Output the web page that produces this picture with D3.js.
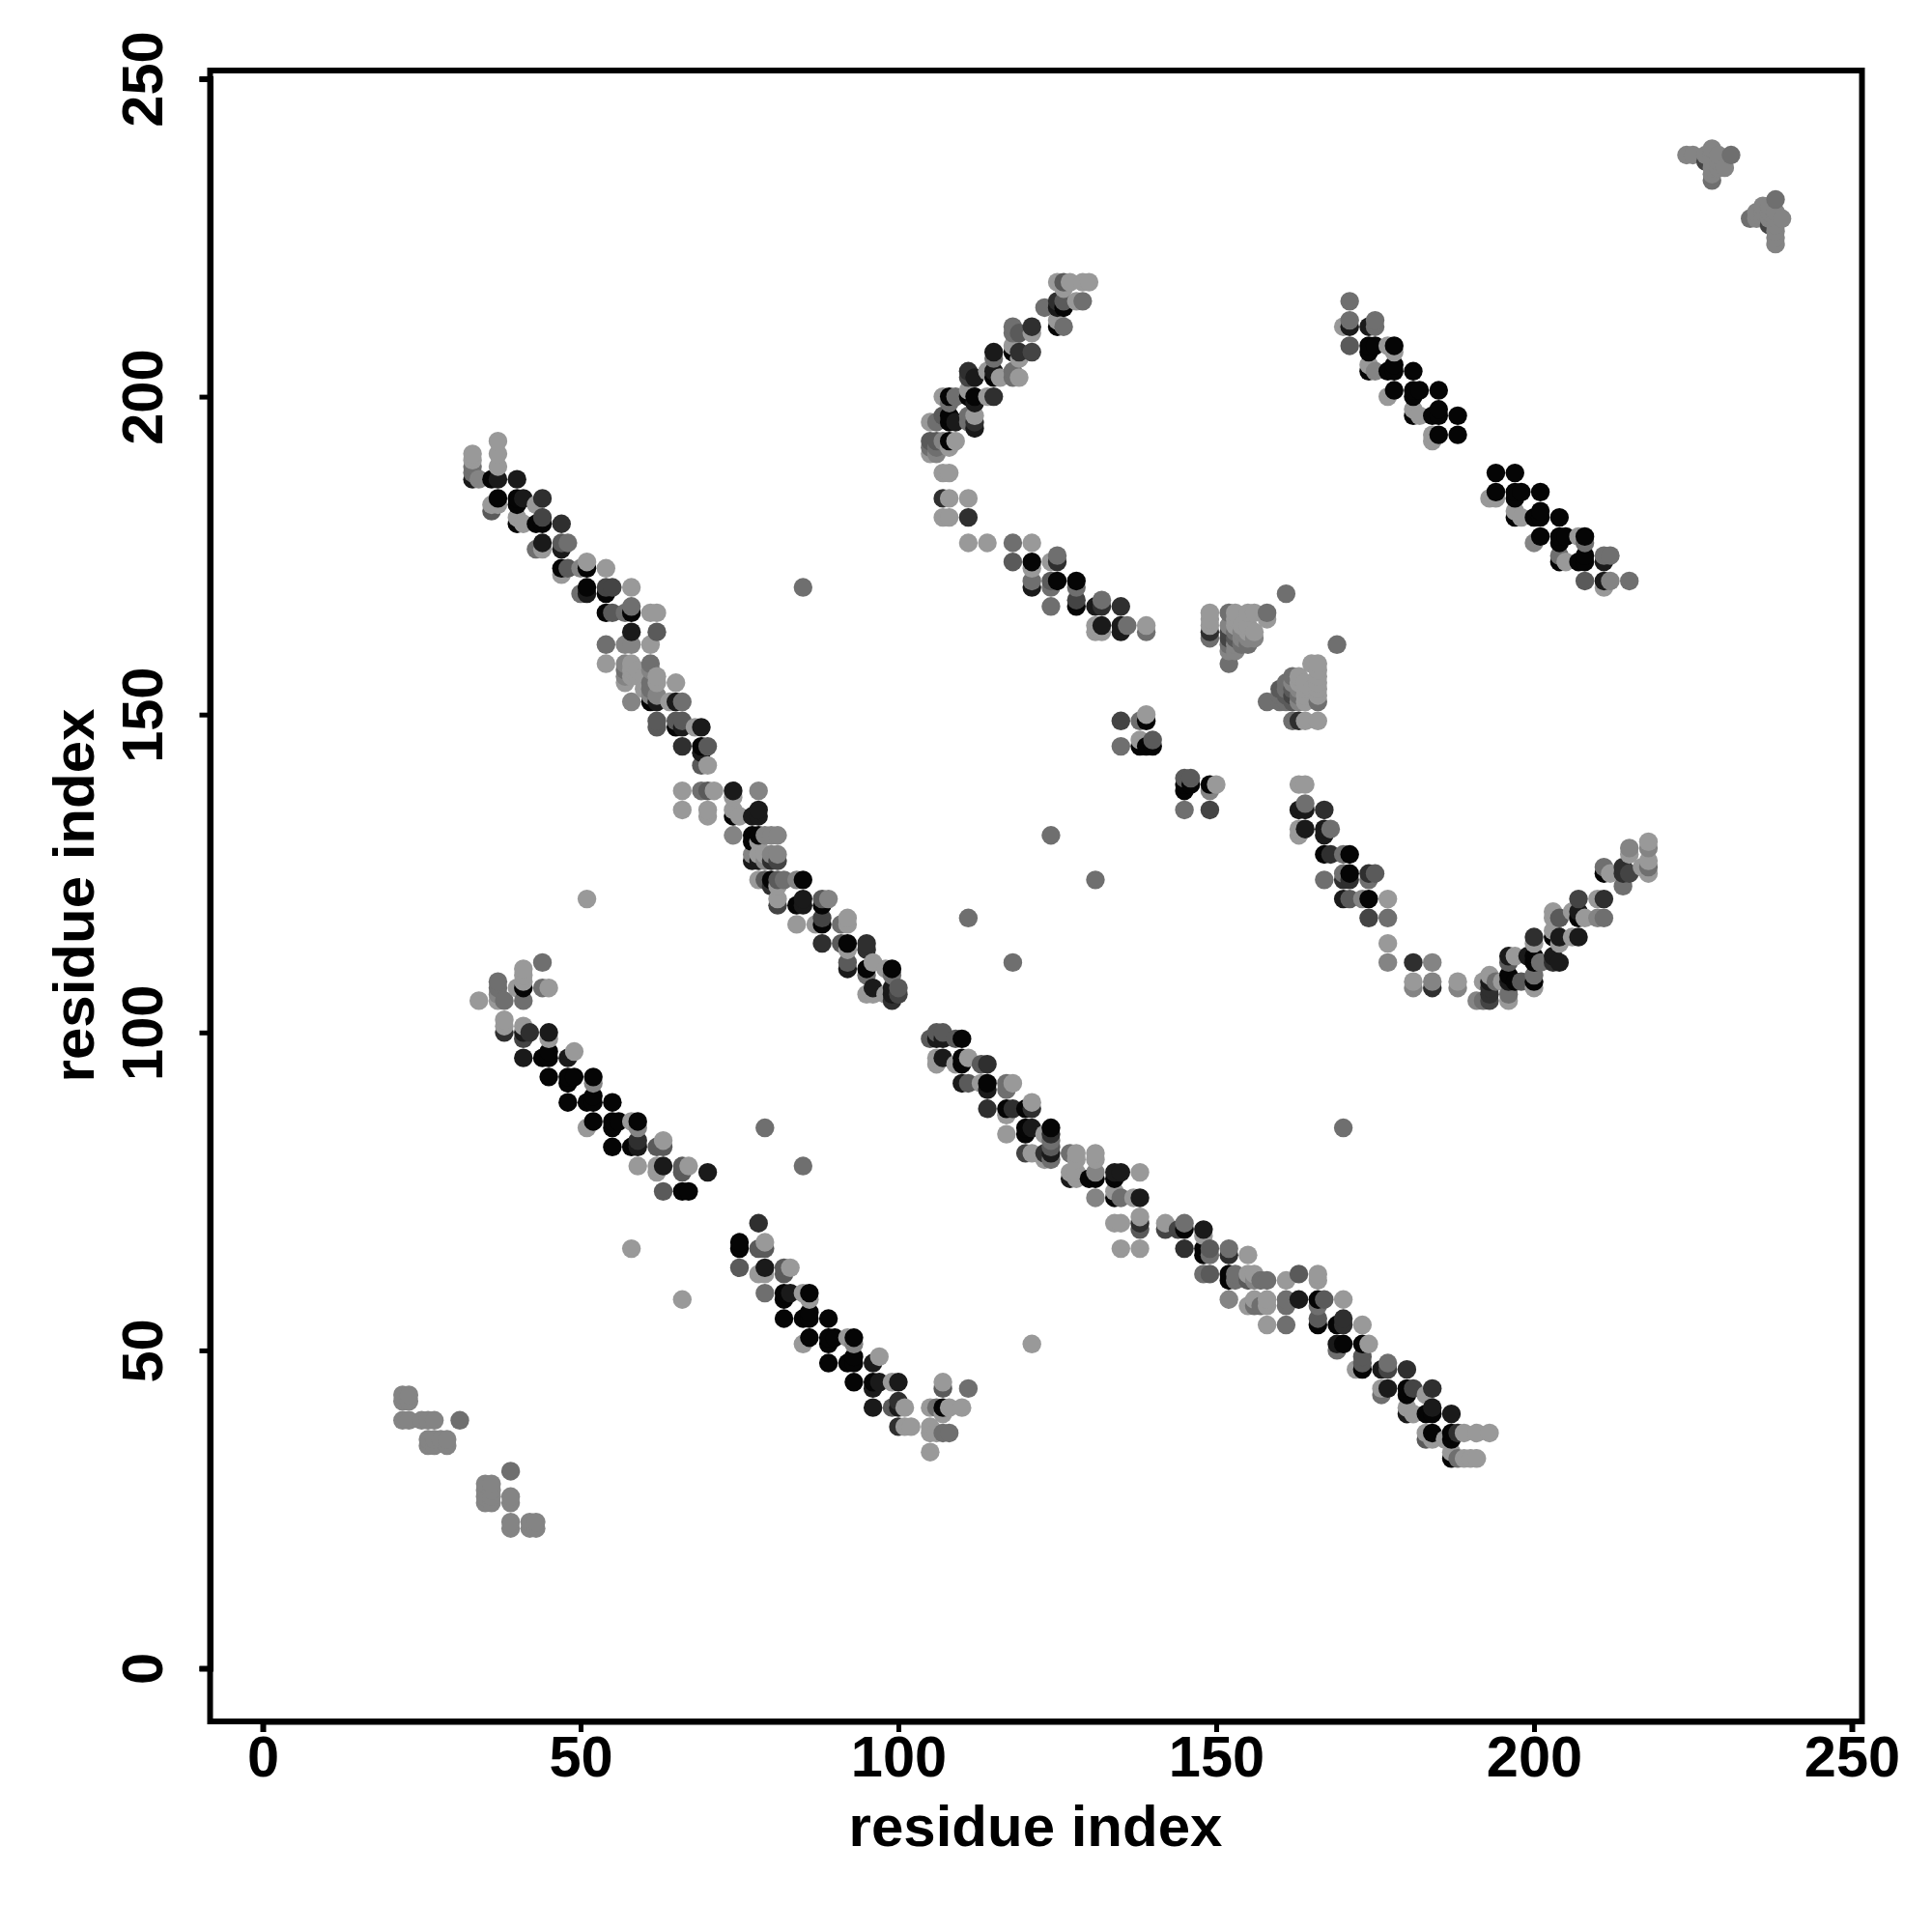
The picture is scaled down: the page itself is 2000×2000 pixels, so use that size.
<!DOCTYPE html>
<html><head><meta charset="utf-8">
<style>html,body{margin:0;background:#fff}svg{display:block}
text{font-family:"Liberation Sans",Arial,sans-serif;font-weight:700;fill:#000}</style>
<script src="https://cdn.jsdelivr.net/npm/d3@7"></script></head><body>
<script>
// each contact: [residue x, residue y, shade 0 (black) .. 7 (light grey)]
const xTicks=[0,50,100,150,200,250];
const yTicks=[0,50,100,150,200,250];
const axisTitle="residue index";
const bandMainUpper=[[33,191,7],[33,190,7],[33,189,5],[33,188,5],[33,187,1],[34,187,6],[36,187,0],[37,187,1],[37,193,7],[37,191,7],[37,189,7],[40,187,1],
[36,182,4],[36,183,7],[37,183,7],[37,184,0],[40,184,0],[40,183,0],[41,184,1],[43,183,7],[44,184,2],[40,180,0],[40,181,7],[41,180,7],[43,180,0],[44,180,0],[44,181,3],[47,180,2],
[43,176,5],[44,176,7],[44,177,1],[47,176,1],[47,177,4],[48,177,5],[47,172,7],[47,173,0],[48,173,4],[50,173,6],[51,173,0],[51,174,7],[54,173,7],
[50,169,5],[51,169,1],[51,170,0],[54,169,0],[54,170,3],[55,170,3],[58,170,7],[54,166,0],[55,166,4],[57,166,5],[58,166,0],[58,167,5],[61,166,7],[62,166,7],
[58,163,1],[62,163,4],[54,161,5],[57,161,6],[58,161,6],[61,161,7],[54,158,7],[57,158,6],[57,157,5],[57,156,6],[57,155,7],[58,158,7],[58,157,7],[58,156,7],[59,157,7],[59,156,7],[61,158,5],[61,157,6],[61,155,5],[61,154,5],[61,153,6],[61,152,0],[62,156,7],[62,155,7],[62,153,6],[62,152,1],[60,156,7],[60,154,7],[65,155,7],[64,152,7],[65,152,1],[66,152,5],[58,152,6],
[62,149,4],[62,148,4],[65,149,4],[66,149,4],[65,148,0],[66,148,1],[68,148,7],[69,148,1],[66,145,2],[69,145,0],[70,145,4],[69,144,1],[69,142,4],[70,142,7],
[66,138,7],[69,138,5],[70,138,4],[71,138,7],[74,138,1],[74,137,7],[78,138,6],[66,135,7],[70,135,7],[70,134,7],[74,135,7],[74,134,0],[75,134,7],[77,134,1],[78,135,1],[78,134,1],
[74,131,6],[77,131,0],[77,130,0],[78,131,0],[78,130,7],[79,131,6],[80,131,6],[81,131,6],[77,128,6],[77,127,1],[78,128,7],[78,127,1],[79,128,7],[79,127,6],[80,127,2],[80,128,6],[81,128,6],[81,127,3],
[78,124,7],[79,124,4],[80,124,0],[81,124,4],[82,124,5],[84,124,6],[85,124,0],[80,123,2],[81,123,7],[81,121,7],[81,120,3],[84,120,0],[85,121,1],[85,120,1],[88,121,4],[89,121,6],[88,120,0],[88,118,3],[88,117,0],[87,117,7],[84,117,7],[92,118,7],[92,117,7],[91,117,5],
[88,114,2],[91,114,4],[92,114,0],[92,113,7],[95,114,2],[95,113,2],[92,111,4],[92,110,1],[95,110,0],[96,111,7],[95,109,5],[98,110,7],[99,110,0],[99,109,5],[96,107,1],[95,106,7],[96,106,7],[98,106,7],[99,107,1],[99,106,1],[100,107,4],[100,106,3],[99,105,2]];
const bandMainLower=[[105,99,4],[106,100,4],[107,100,4],[106,99,1],[107,99,1],[109,99,4],[110,99,0],[106,96,7],[106,95,7],[107,96,1],[109,95,7],[110,96,0],[110,95,0],[111,96,7],[113,95,4],[114,95,2],
[110,92,1],[111,92,4],[113,92,7],[114,92,0],[114,91,1],[117,92,5],[118,92,7],[117,91,5],[114,88,2],[117,88,0],[117,87,7],[118,88,2],[120,88,0],[121,88,2],[121,89,7],
[117,84,7],[120,85,0],[120,84,0],[121,85,1],[124,85,0],[123,84,7],[124,84,2],[120,81,3],[121,81,7],[123,81,2],[124,83,5],[124,82,4],[124,81,1],[124,80,5],[123,80,7],
[127,81,5],[128,81,7],[128,80,7],[127,77,1],[127,78,7],[128,78,7],[128,77,7],[131,81,7],[131,80,7],[131,78,6],[131,77,0],[130,77,0],[134,78,1],[135,78,1],[134,77,0],[138,78,7],
[131,74,6],[134,75,7],[134,74,0],[135,74,5],[137,74,7],[138,74,1],[138,71,7],[134,70,7],[135,70,7],[138,70,2],[138,69,4],[135,66,7],[138,66,7],
[142,70,7],[142,69,3],[144,69,3],[145,70,5],[145,69,0],[148,69,1],[148,68,7],[145,66,2],[148,66,0],[148,65,0],[149,66,4],[149,65,5],[152,66,5],[152,65,2],[155,65,7],
[148,62,5],[149,62,4],[152,62,0],[152,61,0],[153,62,5],[153,61,5],[155,62,7],[156,62,7],[155,61,4],[156,61,6],[157,61,5],[158,61,5],[152,58,6],[155,57,7],[156,58,7],[156,57,5],[157,57,5],[158,58,7],[158,57,7],
[161,61,7],[163,62,4],[166,62,7],[166,61,7],[161,58,5],[161,57,5],[163,58,1],[166,58,0],[166,57,5],[167,58,4],[170,58,7],[158,54,7],[161,54,5],[166,55,4],[166,54,0],[169,54,0],[170,55,2],[170,54,2],[173,54,7],
[169,51,1],[170,51,0],[169,50,5],[173,51,0],[174,51,7],[173,49,4],[173,48,4],[172,47,7],[173,47,0],[176,47,1],[177,48,5],[177,47,3],[180,47,2],
[176,44,7],[176,43,5],[177,44,1],[180,44,0],[180,43,0],[181,44,3],[184,44,2],[183,43,7],[180,41,7],[180,40,1],[181,40,7],[183,40,0],[184,41,1],[184,40,0],[187,40,1],
[183,37,7],[183,36,4],[184,37,0],[184,36,7],[186,36,7],[187,37,0],[187,36,0],[188,37,2],[189,37,7],[191,37,7],[193,37,7],[187,33,0],[187,34,7],[188,33,5],[189,33,7],[190,33,7],[191,33,7]];
const bandUpperLeft=[[44,111,5],[41,110,7],[37,108,5],[37,107,5],[41,109,7],[41,108,7],[40,107,7],[41,107,0],[44,107,5],[45,107,7],[34,105,7],[37,106,6],[37,105,7],[38,105,5],[41,105,5],
[38,102,7],[38,101,7],[38,100,2],[41,101,7],[41,100,1],[41,99,3],[42,100,2],[45,100,1],[45,99,7],[41,96,1],[44,96,0],[45,97,0],[45,96,0],[48,96,1],[49,97,7],
[45,93,0],[48,93,0],[49,93,0],[48,92,0],[52,93,0],[52,92,6],[48,89,0],[51,89,0],[52,90,0],[52,89,0],[55,89,0],[52,86,0],[51,85,7],[55,86,0],[56,86,0],[55,85,0],[58,86,7],[59,86,0],[59,85,6],
[55,82,0],[58,82,0],[59,82,1],[59,83,2],[62,82,4],[63,83,7],[63,82,4],[59,79,7],[62,79,7],[62,78,7],[63,79,1],[66,79,4],[66,78,4],[67,79,7],[70,78,1],[63,75,4],[66,75,0],[67,75,0]];
const bandLowerMiddle=[[78,70,2],[75,67,0],[75,66,0],[78,66,4],[79,67,7],[79,66,4],[75,63,4],[78,62,7],[79,63,1],[79,62,7],[82,63,4],[82,62,4],[83,63,7],[79,59,5],[82,59,0],[83,59,1],[82,58,0],[85,59,7],[86,59,0],[86,58,7],
[82,55,0],[85,55,0],[86,55,0],[86,56,0],[89,55,0],[86,52,0],[85,51,7],[89,52,0],[90,52,0],[89,51,0],[92,52,7],[93,52,0],[93,51,6],[89,48,0],[92,48,0],[93,48,0],[93,49,0],[96,48,1],[97,49,7],
[93,45,0],[96,45,0],[97,45,1],[96,44,1],[99,45,7],[100,45,1],[96,41,1],[99,41,4],[100,42,2],[100,41,1],[101,41,7],[100,38,2],[101,38,7],[102,38,7],
[105,41,7],[106,41,5],[107,41,0],[108,41,7],[110,41,7],[107,40,7],[107,45,7],[107,44,4],[111,44,5],[105,38,7],[105,37,7],[106,37,7],[107,37,5],[108,37,5],[105,34,7]];
const bandArcTop=[[125,218,7],[126,218,4],[127,218,7],[129,218,7],[130,218,7],[126,217,7],[123,214,5],[125,215,2],[126,215,4],[125,214,1],[126,214,0],[128,215,7],[129,215,5],[125,211,0],[126,211,5],[125,212,7],
[118,211,5],[118,210,5],[119,210,4],[121,211,2],[121,210,7],[118,208,7],[118,207,0],[119,207,2],[119,206,7],[121,207,3],[115,207,1],[115,206,5],[118,204,5],[119,203,7],[118,203,5],[116,203,7],[115,204,1],[115,203,0],[114,204,7],[111,204,2],[112,203,1],[111,203,3],
[107,200,7],[108,200,0],[109,200,5],[108,199,5],[111,201,7],[111,200,0],[112,200,0],[112,199,1],[114,200,7],[115,200,2],[105,196,7],[106,196,5],[107,197,4],[108,197,0],[108,196,0],[109,196,1],[111,197,5],[111,196,5],[112,197,7],[112,196,2],[112,195,1],
[105,193,4],[106,193,4],[105,192,5],[105,191,7],[106,192,5],[106,191,6],[107,193,6],[108,193,0],[109,193,7],[108,192,7],[107,188,7],[108,188,7],[107,184,2],[108,184,7],[111,184,7],[107,181,7],[108,181,7],[111,181,2],
[111,177,7],[114,177,7],[118,177,5],[121,177,7],[118,174,4],[121,174,0],[121,173,7],[124,174,7],[125,175,5],[125,174,2],[121,171,5],[121,170,1],[124,171,4],[124,170,5],[125,171,0],[128,171,0],[128,170,5],
[124,167,5],[128,168,3],[128,167,0],[131,167,1],[132,168,5],[132,167,2],[135,167,2],[131,164,7],[131,163,7],[132,164,1],[132,163,7],[135,164,1],[135,163,1],[136,164,5],[139,164,7],[139,163,5]];
const bandArcBottom=[[163,139,7],[164,139,7],[163,135,1],[164,136,5],[164,135,1],[167,135,2],[163,132,7],[163,131,7],[164,132,1],[167,132,1],[167,131,1],[168,132,5],[167,128,0],[168,128,2],[170,128,5],[171,128,0],
[167,124,5],[170,125,5],[170,124,2],[171,125,0],[171,124,2],[174,125,2],[175,125,4],[174,124,5],[170,121,1],[171,121,4],[173,121,6],[174,121,0],[177,121,7],[174,118,3],[177,118,5],[177,114,7],[177,111,6],
[181,111,2],[184,111,6],[181,108,7],[181,107,6],[184,108,6],[184,107,2],[188,108,7],[188,107,6],
[191,105,6],[192,105,5],[192,108,7],[193,109,7],[193,108,1],[193,107,2],[193,106,2],[193,105,3],[194,108,5],[195,108,7],[196,112,1],[196,111,4],[196,109,0],[196,108,1],[196,106,5],[196,105,7],[197,112,7],[197,108,0],[198,108,4],[199,112,1],
[200,115,2],[200,114,7],[200,112,0],[200,111,0],[201,111,5],[200,109,5],[200,108,0],[200,107,7],[203,119,7],[203,118,7],[203,116,7],[203,115,0],[203,112,1],[203,111,2],[204,118,4],[204,115,1],[204,114,7],[204,111,1],
[206,119,7],[206,115,7],[207,121,3],[207,119,1],[207,118,0],[207,115,1],[208,118,7],[210,121,7],[211,121,2],[210,118,6],[211,118,5],[211,126,5],[211,125,0],[212,125,7],[214,126,2],[214,125,2],[214,123,5],[215,129,6],[215,128,7],[215,125,3],[217,126,7],[218,130,7],[218,129,6],[218,127,7],[218,126,5],[218,125,7]];
const bandRight=[[171,215,5],[170,211,7],[171,212,5],[171,211,1],[171,208,4],[174,211,1],[175,212,5],[175,211,5],[174,208,0],[174,207,0],[175,208,0],[177,208,7],[178,208,0],[178,207,7],
[174,205,7],[174,204,0],[175,204,6],[177,204,0],[178,204,0],[178,205,0],[181,204,0],[177,200,7],[178,201,0],[181,201,0],[182,201,0],[181,200,0],[185,201,0],[181,198,7],[181,197,0],[182,197,7],[184,197,0],[185,198,0],[185,197,0],[188,197,0],[184,194,7],[184,193,7],[185,194,0],[188,194,0],
[194,188,0],[197,188,0],[193,184,7],[194,185,0],[194,184,7],[197,185,0],[197,184,0],[198,185,0],[201,185,0],[197,182,7],[197,181,0],[198,181,7],[200,181,0],[201,182,0],[201,181,0],[204,181,0],
[200,177,6],[201,178,0],[204,178,0],[205,178,0],[204,177,0],[207,178,7],[208,178,0],[208,177,5],[204,175,5],[204,174,0],[205,174,7],[207,174,0],[208,175,0],[208,174,0],[211,175,5],[212,175,5],[211,174,1],[208,171,4],[211,171,1],[211,170,7],[212,171,6],[215,171,5]];
const clusterSmall=[[135,149,3],[138,149,5],[139,149,0],[139,150,7],[135,145,5],[138,146,7],[138,145,0],[139,145,0],[140,146,4],[140,145,0],
[145,140,4],[145,139,0],[145,138,0],[146,140,4],[146,139,0],[149,139,0],[150,139,7],[149,138,6],[145,135,5],[149,135,3]];
const clusterA=[[149,166,7],[149,165,7],[149,164,7],[149,163,2],[149,162,5],[152,166,5],[153,166,7],[155,166,7],[156,166,7],[158,166,5],[158,165,7],
[152,164,6],[152,163,3],[152,162,3],[152,161,5],[152,160,6],[152,158,5],[153,165,7],[153,164,7],[153,163,5],[153,162,4],[153,161,6],[153,160,6],[154,164,7],[154,163,6],[154,162,6],[154,161,5],[155,164,7],[155,163,7],[155,162,6],[155,161,5],[156,163,7],[156,162,6]];
const clusterB=[[158,152,5],[160,154,4],[160,153,5],[160,152,5],[161,155,5],[161,154,5],[161,153,4],[161,152,5],[162,156,5],[162,155,6],[162,154,4],[162,153,3],[162,152,4],[163,156,7],[163,155,7],[163,154,6],[163,153,5],[163,152,6],[164,155,7],[164,154,7],[164,153,7],[164,152,7],
[165,158,7],[165,154,7],[166,158,7],[166,157,7],[166,156,7],[166,155,7],[166,154,7],[166,153,7],[166,152,5],[162,149,5],[163,149,2],[164,149,7],[166,149,7]];
const clusterLowerLeft=[[22,43,6],[23,43,6],[22,42,6],[23,42,6],[22,39,6],[23,39,6],[25,39,6],[26,39,6],[27,39,6],[31,39,5],[26,36,6],[27,36,6],[28,36,6],[29,36,6],[26,35,6],[27,35,6],[29,35,6],
[39,31,5],[35,29,6],[36,29,6],[35,28,6],[36,28,6],[35,27,6],[36,27,6],[35,26,6],[36,26,6],[39,27,6],[39,26,6],[39,23,6],[39,22,6],[42,23,6],[43,23,6],[42,22,6],[43,22,6]];
const clusterTopRight=[[224,238,6],[225,238,6],[227,238,6],[227,237,3],[228,239,6],[228,238,6],[229,238,6],[231,238,5],[228,237,6],[229,237,6],[228,236,6],[229,236,6],[230,236,6],[228,235,6],[228,234,5],
[238,231,5],[234,228,5],[235,229,6],[235,228,6],[236,230,6],[237,230,6],[236,229,6],[237,229,6],[238,229,6],[236,228,6],[237,228,6],[238,228,6],[239,228,6],[237,227,3],[238,227,6],[238,226,6],[238,225,6],[238,224,6]];
const isolated=[[85,170,5],[124,131,5],[131,124,5],[111,118,5],[118,111,5],[51,121,7],[79,85,5],[85,79,5],[170,85,5],[169,161,5],[161,169,5],[121,51,7],[58,66,7],[66,58,7]];

const contacts=[bandMainUpper,bandMainLower,bandUpperLeft,bandLowerMiddle,bandArcTop,bandArcBottom,bandRight,clusterSmall,clusterA,clusterB,clusterLowerLeft,clusterTopRight,isolated].flat()
  .sort((a,b)=>d3.ascending(a[0],b[0])||d3.ascending(a[1],b[1]));

const svg=d3.select("body").append("svg").attr("width",2000).attr("height",2000);
const x=d3.scaleLinear().domain([0,250]).range([272,1917]);
const y=d3.scaleLinear().domain([0,250]).range([1727,81.5]);
const grey=d3.scaleLinear().domain([0,7]).range(["#050505","#999999"]);

svg.append("g").selectAll("circle").data(contacts).join("circle")
  .attr("cx",d=>x(d[0])).attr("cy",d=>y(d[1])).attr("r",9.7).attr("fill",d=>grey(d[2]));

svg.append("rect").attr("x",217.5).attr("y",73).attr("width",1710).attr("height",1709)
  .attr("fill","none").attr("stroke","#000").attr("stroke-width",6);

const ax=svg.append("g").attr("transform","translate(0,1782)")
  .call(d3.axisBottom(x).tickValues(xTicks).tickFormat(d3.format("d")).tickSize(11));
const ay=svg.append("g").attr("transform","translate(217.5,0)")
  .call(d3.axisLeft(y).tickValues(yTicks).tickFormat(d3.format("d")).tickSize(11));
[ax,ay].forEach(g=>{g.selectAll("path").attr("stroke","#000").attr("stroke-width",6);
  g.selectAll("line").attr("stroke","#000").attr("stroke-width",5);
  g.selectAll("text").attr("font-size",59.5).attr("font-family",'"Liberation Sans"').attr("font-weight",700).attr("fill","#000");});
ax.selectAll("text").attr("dy",null).attr("dominant-baseline","central").attr("y",36);
ay.selectAll("text").attr("dy",null).attr("text-anchor","middle").attr("dominant-baseline","central")
  .attr("x",null).attr("transform",()=>"translate(-70.5,0) rotate(-90)");

svg.append("text").attr("x",1072).attr("y",1890).attr("text-anchor","middle").attr("dominant-baseline","central").attr("font-size",60).text(axisTitle);
svg.append("text").attr("transform","translate(76,927) rotate(-90)").attr("text-anchor","middle").attr("dominant-baseline","central").attr("font-size",60).text(axisTitle);
</script></body></html>
